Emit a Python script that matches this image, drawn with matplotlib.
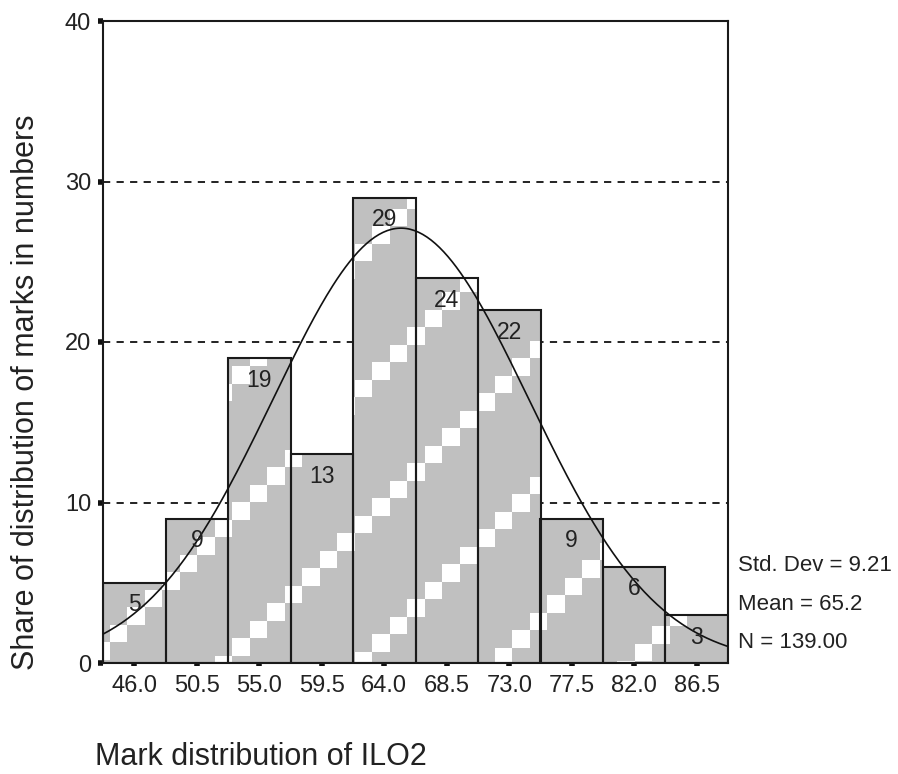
import numpy as np
import matplotlib
matplotlib.use("Agg")
import matplotlib.pyplot as plt
from matplotlib.patches import Rectangle
from matplotlib.collections import PatchCollection
from matplotlib.transforms import IdentityTransform

# ---- data ----
bin_centers = [46.0, 50.5, 55.0, 59.5, 64.0, 68.5, 73.0, 77.5, 82.0, 86.5]
counts = [5, 9, 19, 13, 29, 24, 22, 9, 6, 3]
tick_labels = ["46.0", "50.5", "55.0", "59.5", "64.0", "68.5", "73.0", "77.5", "82.0", "86.5"]
y_ticks = [0, 10, 20, 30, 40]
std_dev = 9.21
mean = 65.2
n_total = 139
bin_width = 4.5
stats_lines = ["Std. Dev = 9.21", "Mean = 65.2", "N = 139.00"]
x_title = "Mark distribution of ILO2"
y_title = "Share of distribution of marks in numbers"

plt.rcParams['font.family'] = ['Liberation Sans', 'DejaVu Sans']
TXT = '#222222'
W, H = 898, 774
fig = plt.figure(figsize=(W / 100, H / 100), dpi=100)
fig.patch.set_facecolor('white')
L, R, T, B = 103, 728, 21, 663
ax = fig.add_axes([L / W, 1 - B / H, (R - L) / W, (B - T) / H])

x0 = bin_centers[0] - bin_width / 2
x1 = bin_centers[-1] + bin_width / 2
ax.set_xlim(x0, x1)
ax.set_ylim(0, 40)

# dashed reference lines
for yv in [10, 20, 30]:
    ax.axhline(yv, color='#111111', lw=1.3, ls=(0, (4, 3.5)), zorder=1)

bars = ax.bar(bin_centers, counts, width=bin_width, color='#c0c0c0',
              edgecolor='none', zorder=2)

# stepped white diagonal stripe decoration (display pixel coords)
s = 17.5
sq_x = np.arange(118.5 - 17.5 * 8, 780, s)
stripe_c = [752 + 136 * k for k in range(-6, 6)]
for b in bars:
    rects = []
    for c in stripe_c:
        for cx in sq_x:
            cy_img = c - cx
            rects.append(Rectangle((cx - s / 2, (H - cy_img) - s / 2), s, s))
    pc = PatchCollection(rects, facecolor='white', edgecolor='none',
                         transform=IdentityTransform(), zorder=2.1)
    ax.add_collection(pc)
    pc.set_clip_path(b)

ax.bar(bin_centers, counts, width=bin_width, fill=False,
       edgecolor='#1a1a1a', linewidth=1.5, zorder=3)

# normal curve
xs = np.linspace(x0, x1, 300)
peak = n_total * bin_width / (std_dev * np.sqrt(2 * np.pi))
ax.plot(xs, peak * np.exp(-0.5 * ((xs - mean) / std_dev) ** 2),
        color='#111111', lw=1.2, zorder=4)

# bar count labels
for xc, cnt in zip(bin_centers, counts):
    ax.annotate(str(cnt), (xc, cnt), xytext=(0, -16), textcoords='offset points',
                ha='center', va='center', fontsize=16.5, color=TXT, zorder=5)

# axes styling
for sp in ax.spines.values():
    sp.set_color('#1a1a1a')
    sp.set_linewidth(1.5)
ax.set_xticks(bin_centers)
ax.set_xticklabels(tick_labels)
ax.set_yticks(y_ticks)
ax.tick_params(axis='x', direction='out', length=2.5, width=4, color='#111111',
               pad=6, labelsize=17, labelcolor=TXT)
ax.tick_params(axis='y', direction='out', length=3.5, width=4, color='#111111',
               pad=5, labelsize=17, labelcolor=TXT)

# stats
for txt, yf in zip(stats_lines, [0.1524, 0.0918, 0.0327]):
    ax.text(1.0155, yf, txt, transform=ax.transAxes, ha='left', va='center',
            fontsize=16, color=TXT)

fig.text(95 / W, 1 - 757 / H, x_title, ha='left', va='center', fontsize=22, color=TXT)
fig.text(26 / W, 1 - 392 / H, y_title, ha='center', va='center', rotation=90,
         fontsize=22, color=TXT)

fig.savefig('out.png', dpi=100, facecolor='white')
